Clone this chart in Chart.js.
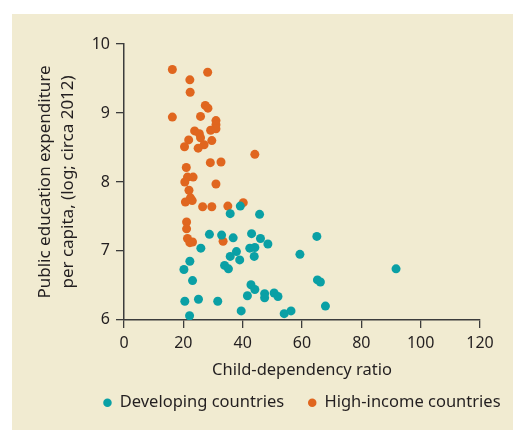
<!DOCTYPE html>
<html>
<head>
<meta charset="utf-8">
<script src="https://cdn.jsdelivr.net/npm/chart.js@4"></script>
<style>
body{margin:0;background:#fff;}
#panel{position:absolute;left:12px;top:14px;width:501px;height:416px;background:#f1ebd1;}
</style>
</head>
<body>
<div id="panel"><canvas id="chart"></canvas></div>
<script>
// child-dependency ratio (x) and log public education spending per capita (y)
var devRatio=[39.2,35.8,45.7,28.8,32.9,36.8,43.0,46.0,48.5,65.0,25.9,42.4,44.1,37.9,35.8,39.0,43.9,59.3,22.2,20.2,33.9,35.2,91.7,23.1,65.2,66.2,42.8,44.1,41.6,47.4,47.4,50.6,51.9,67.9,20.5,25.1,31.6,39.5,22.1,54.0,56.3];
var devSpend=[7.65,7.54,7.53,7.24,7.23,7.19,7.25,7.18,7.10,7.21,7.04,7.04,7.05,6.99,6.92,6.87,6.92,6.95,6.85,6.73,6.79,6.74,6.74,6.57,6.58,6.55,6.51,6.44,6.35,6.38,6.32,6.39,6.34,6.20,6.27,6.30,6.27,6.13,6.06,6.09,6.13];
var highRatio=[16.3,28.2,22.2,22.3,27.4,28.3,16.3,25.8,31.0,31.0,31.0,29.2,23.8,25.4,25.8,21.8,29.6,27.0,20.4,25.0,44.1,29.1,32.7,21.0,21.4,23.3,20.5,31.0,21.9,22.4,23.0,20.7,26.5,29.6,35.0,40.2,21.1,21.1,21.4,22.2,23.1,33.4];
var highSpend=[9.63,9.59,9.48,9.30,9.11,9.07,8.94,8.95,8.89,8.83,8.77,8.75,8.74,8.70,8.64,8.61,8.60,8.54,8.51,8.49,8.40,8.28,8.29,8.21,8.07,8.07,8.00,7.97,7.88,7.77,7.73,7.71,7.64,7.64,7.65,7.70,7.42,7.32,7.18,7.12,7.13,7.14];
var seriesNames=['Developing countries','High-income countries'];
var yTitle=['Public education expenditure','per capita, (log; circa 2012)'];
var xTitle='Child-dependency ratio';

function pts(xs,ys){
  var out=[];
  for(var i=0;i<xs.length;i++) out.push({x:xs[i],y:ys[i]});
  return out;
}
var ink='#231f20',axisCol='#3c3c3c';
var fam="'Noto Sans', sans-serif";
var teal='#0aa0a5',orange='#e0661f';

// slide the one-row legend so it is centred under the plot area, keeping its width
var legendUnderPlot={
  id:'legendUnderPlot',
  afterLayout:function(chart){
    var lg=chart.legend;
    if(!lg) return;
    var d=(chart.chartArea.left+chart.chartArea.right)/2-(lg.left+lg.right)/2;
    lg.left+=d;
    lg.right+=d;
  }
};

new Chart(document.getElementById('chart'),{
  type:'scatter',
  data:{datasets:[
    {label:seriesNames[0],data:pts(devRatio,devSpend),backgroundColor:teal,borderWidth:0,pointRadius:4.5,pointHoverRadius:4.5},
    {label:seriesNames[1],data:pts(highRatio,highSpend),backgroundColor:orange,borderWidth:0,pointRadius:4.5,pointHoverRadius:4.5}
  ]},
  plugins:[legendUnderPlot],
  options:{
    responsive:true,maintainAspectRatio:false,animation:false,
    layout:{padding:{top:30,right:33,left:0,bottom:9}},
    plugins:{
      tooltip:{enabled:false},
      legend:{position:'bottom',
        labels:{color:ink,font:{family:fam,size:16.5},usePointStyle:true,pointStyle:'circle',boxWidth:8,boxHeight:6,padding:24}}
    },
    scales:{
      x:{type:'linear',min:0,max:120,
        ticks:{stepSize:20,color:ink,padding:6,font:{family:fam,size:16}},
        grid:{drawOnChartArea:false,drawTicks:true,tickLength:8,color:axisCol,lineWidth:1.3},
        border:{display:true,color:axisCol,width:1.5},
        title:{display:true,text:xTitle,color:ink,font:{family:fam,size:16.5},padding:{top:1.2,bottom:-9.6}}
      },
      y:{type:'linear',min:6,max:10,
        ticks:{stepSize:1,color:ink,padding:6,font:{family:fam,size:16}},
        grid:{drawOnChartArea:false,drawTicks:true,tickLength:8,color:axisCol,lineWidth:1.3},
        border:{display:true,color:axisCol,width:1.5},
        title:{display:true,text:yTitle,color:ink,font:{family:fam,size:17,lineHeight:1.35},padding:{top:21.5,bottom:0}},
        afterFit:function(s){s.width=112;}
      }
    }
  }
});
</script>
</body>
</html>
